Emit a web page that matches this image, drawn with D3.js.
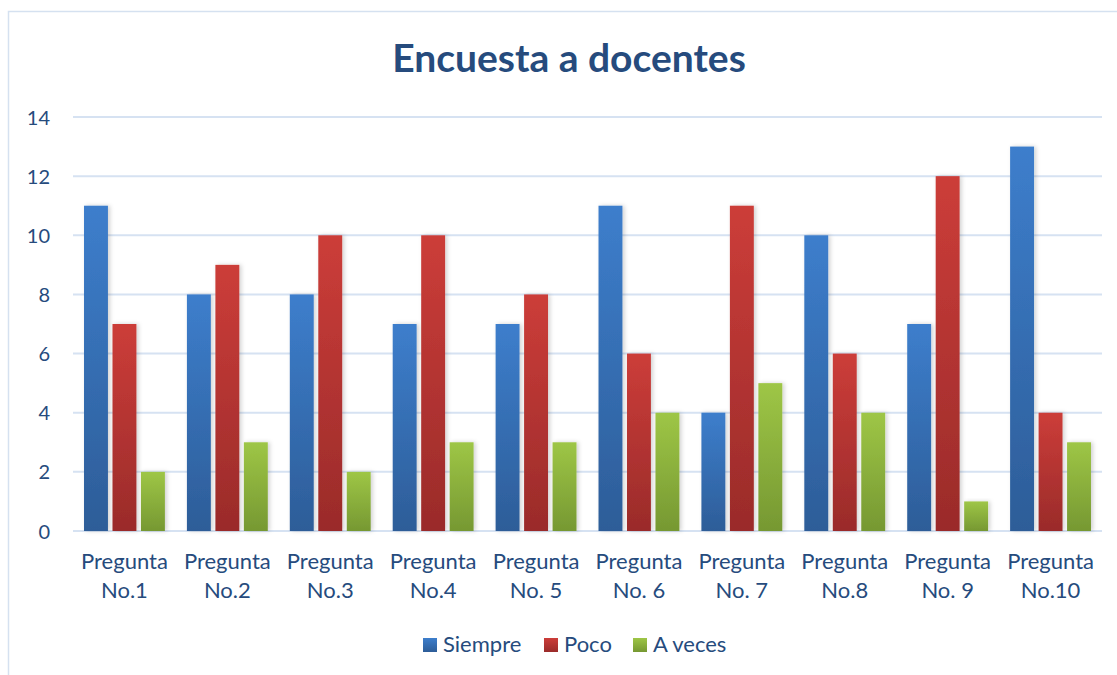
<!DOCTYPE html>
<html>
<head>
<meta charset="utf-8">
<script src="https://cdn.jsdelivr.net/npm/d3@7"></script>
<style>
  body { margin: 0; background: #fff; }
  text { font-family: Lato, "Open Sans", sans-serif; }
</style>
</head>
<body>
<div id="chart"></div>
<script>
// Chart data
const categories = ["Pregunta No.1", "Pregunta No.2", "Pregunta No.3", "Pregunta No.4", "Pregunta No. 5",
  "Pregunta No. 6", "Pregunta No. 7", "Pregunta No.8", "Pregunta No. 9", "Pregunta No.10"];
const seriesNames = ["Siempre", "Poco", "A veces"];
const siempre = [11, 8, 8, 7, 7, 11, 4, 10, 7, 13];
const poco = [7, 9, 10, 10, 8, 6, 11, 6, 12, 4];
const aVeces = [2, 3, 2, 3, 3, 4, 5, 4, 1, 3];
const yTicks = [0, 2, 4, 6, 8, 10, 12, 14];

const seriesValues = [siempre, poco, aVeces];
const colors = [
  { top: "#3d7ecc", bottom: "#2d5d98" },
  { top: "#cc3d39", bottom: "#9a2b2a" },
  { top: "#9ec646", bottom: "#769832" }
];
const textColor = "#264b7d";

const width = 1117, height = 675;
const margin = { left: 73, right: 15, top: 117, bottom: 144 };

const svg = d3.select("#chart").append("svg")
  .attr("width", width)
  .attr("height", height);

const defs = svg.append("defs");
colors.forEach((c, i) => {
  const g = defs.append("linearGradient")
    .attr("id", "grad" + i)
    .attr("x1", 0).attr("y1", 0).attr("x2", 0).attr("y2", 1);
  g.append("stop").attr("offset", "0%").attr("stop-color", c.top);
  g.append("stop").attr("offset", "100%").attr("stop-color", c.bottom);
});
const shadow = defs.append("filter").attr("id", "shadow")
  .attr("x", "-30%").attr("y", "-10%").attr("width", "160%").attr("height", "120%");
shadow.append("feDropShadow")
  .attr("dx", 2).attr("dy", 0).attr("stdDeviation", 2)
  .attr("flood-color", "#000").attr("flood-opacity", 0.18);

// Outer chart border (clipped at right and bottom like the reference)
svg.append("rect")
  .attr("x", 8.5).attr("y", 11.5)
  .attr("width", 1200).attr("height", 700)
  .attr("fill", "none")
  .attr("stroke", "#d5e1f0")
  .attr("stroke-width", 1.5);

// Title
svg.append("text")
  .attr("x", 569).attr("y", 72)
  .attr("text-anchor", "middle")
  .attr("font-size", 39)
  .attr("font-weight", "bold")
  .attr("fill", textColor)
  .text("Encuesta a docentes");

const x0 = d3.scaleBand()
  .domain(categories)
  .range([margin.left, width - margin.right])
  .paddingInner(0.214)
  .paddingOuter(0.107);

const x1 = d3.scaleBand()
  .domain(seriesNames)
  .range([0, x0.bandwidth()])
  .paddingInner(0.16);

const y = d3.scaleLinear()
  .domain([0, 14])
  .range([height - margin.bottom, margin.top]);

// Gridlines
svg.append("g")
  .selectAll("line")
  .data(yTicks)
  .join("line")
  .attr("x1", margin.left)
  .attr("x2", width - margin.right)
  .attr("y1", d => y(d))
  .attr("y2", d => y(d))
  .attr("stroke", "#d6e2f2")
  .attr("stroke-width", 2);

// Y axis labels
const yAxis = d3.axisLeft(y).tickValues(yTicks).tickSize(0).tickPadding(0);
svg.append("g")
  .attr("transform", `translate(50,0)`)
  .call(yAxis)
  .call(g => g.select(".domain").remove())
  .selectAll("text")
  .attr("font-size", 20)
  .attr("fill", textColor)
  .attr("dy", "0.35em");

// Bars
const groups = svg.append("g")
  .selectAll("g")
  .data(categories)
  .join("g")
  .attr("transform", d => `translate(${x0(d)},0)`);

groups.selectAll("rect")
  .data((d, i) => seriesNames.map((s, j) => ({ series: s, idx: j, value: seriesValues[j][i] })))
  .join("rect")
  .attr("x", d => x1(d.series))
  .attr("width", x1.bandwidth())
  .attr("y", d => y(d.value))
  .attr("height", d => y(0) - y(d.value))
  .attr("fill", d => `url(#grad${d.idx})`)
  .attr("filter", "url(#shadow)");

// X axis labels (two lines)
const xLabels = svg.append("g")
  .selectAll("text")
  .data(categories)
  .join("text")
  .attr("x", d => x0(d) + x0.bandwidth() / 2)
  .attr("y", 569)
  .attr("text-anchor", "middle")
  .attr("font-size", 22)
  .attr("fill", textColor);
xLabels.append("tspan")
  .attr("x", d => x0(d) + x0.bandwidth() / 2)
  .text(d => d.split(" ")[0]);
xLabels.append("tspan")
  .attr("x", d => x0(d) + x0.bandwidth() / 2)
  .attr("dy", 29)
  .text(d => d.split(" ").slice(1).join(" "));

// Legend
const legendX = [423, 544, 633];
const legend = svg.append("g")
  .selectAll("g")
  .data(seriesNames)
  .join("g")
  .attr("transform", (d, i) => `translate(${legendX[i]},638)`);
legend.append("rect")
  .attr("width", 14).attr("height", 14)
  .attr("fill", (d, i) => `url(#grad${i})`);
legend.append("text")
  .attr("x", 20).attr("y", 14)
  .attr("font-size", 22)
  .attr("fill", textColor)
  .text(d => d);
</script>
</body>
</html>
